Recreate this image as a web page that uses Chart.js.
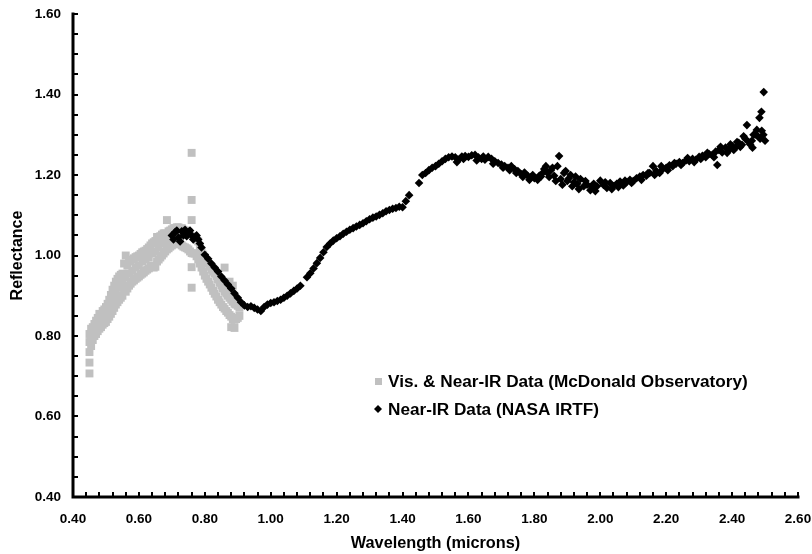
<!DOCTYPE html>
<html>
<head>
<meta charset="utf-8">
<script src="https://cdn.jsdelivr.net/npm/chart.js@4.4.1/dist/chart.umd.min.js"></script>
<style>
html,body{margin:0;padding:0;background:#ffffff;}
#wrap{width:812px;height:554px;position:relative;}
canvas{display:block;}
</style>
</head>
<body>
<div id="wrap"><canvas id="chart" width="812" height="554"></canvas></div>
<script>
// ---------------- data ----------------
const seriesLabels = ['Vis. & Near-IR Data (McDonald Observatory)', 'Near-IR Data (NASA IRTF)'];
const xTickValues = [0.40, 0.60, 0.80, 1.00, 1.20, 1.40, 1.60, 1.80, 2.00, 2.20, 2.40, 2.60];
const yTickValues = [0.40, 0.60, 0.80, 1.00, 1.20, 1.40, 1.60];
const xTitle = 'Wavelength (microns)';
const yTitle = 'Reflectance';

// McDonald Observatory visible / near-IR points (wavelength, reflectance)
const visWl = [
  0.450,0.450,0.450,0.450,0.450, 0.455,0.455,0.455, 0.460,0.460, 0.465,0.465, 0.470,0.470,
  0.475,0.475, 0.480,0.480, 0.485,0.485, 0.490,0.490,0.490, 0.495,0.495, 0.500,0.500,0.500,
  0.505,0.505, 0.510,0.510,0.510, 0.515,0.515, 0.520,0.520,0.520, 0.525,0.525, 0.530,0.530,0.530,
  0.535,0.535, 0.540,0.540,0.540, 0.545,0.545, 0.550,0.550,0.550, 0.555,0.555, 0.560,0.560,0.560,
  0.565,0.565, 0.570,0.570,0.570, 0.575,0.575, 0.580,0.580,0.580, 0.585,0.585, 0.590,0.590,0.590,
  0.595,0.595, 0.600,0.600,0.600, 0.605,0.605, 0.610,0.610,0.610, 0.615,0.615, 0.620,0.620,0.620,
  0.625,0.625, 0.630,0.630,0.630, 0.635,0.635, 0.640,0.640,0.640, 0.645,0.645, 0.650,0.650,0.650,
  0.655,0.655, 0.660,0.660,0.660, 0.665,0.665, 0.670,0.670,0.670, 0.675,0.675, 0.680,0.680,0.680,
  0.685,0.685, 0.690,0.690,0.690, 0.695,0.695, 0.700,0.700,0.700, 0.705,0.705, 0.710,0.710,
  0.715,0.715, 0.720,0.720, 0.725,0.725, 0.730,0.730, 0.735,0.735, 0.740,0.740, 0.745,0.745,
  0.750,0.750, 0.755,0.755, 0.760,0.760,0.760,0.760,0.760,0.760, 0.765,0.765, 0.770,0.770,
  0.775,0.775, 0.780,0.780, 0.785,0.785, 0.790,0.790, 0.795,0.795, 0.800,0.800, 0.805,0.805,
  0.810,0.810, 0.815,0.815, 0.820,0.820, 0.825,0.825, 0.830,0.830, 0.835,0.835, 0.840,0.840,
  0.845,0.845, 0.850,0.850, 0.855,0.855, 0.860,0.860,0.860, 0.865,0.865, 0.870,0.870,
  0.875,0.875,0.875, 0.880,0.880,0.880, 0.885,0.885,0.885, 0.890,0.890,0.890, 0.895,0.895,
  0.900,0.900, 0.905,0.905
];
const visRefl = [
  0.707,0.734,0.760,0.785,0.805, 0.775,0.800,0.818, 0.790,0.822, 0.800,0.830, 0.805,0.838,
  0.812,0.845, 0.818,0.855, 0.822,0.840, 0.828,0.845,0.862, 0.832,0.866, 0.835,0.855,0.872,
  0.842,0.880, 0.848,0.868,0.890, 0.855,0.902, 0.862,0.888,0.915, 0.870,0.925, 0.878,0.905,0.935,
  0.884,0.942, 0.890,0.920,0.948, 0.895,0.952, 0.900,0.930,0.955, 0.915,0.980, 0.910,0.945,1.000,
  0.918,0.975, 0.925,0.955,0.985, 0.930,0.988, 0.935,0.962,0.990, 0.938,0.993, 0.942,0.970,0.996,
  0.945,0.998, 0.948,0.975,1.000, 0.952,1.004, 0.955,0.985,1.008, 0.958,1.010, 0.962,0.990,1.012,
  0.965,1.016, 0.968,0.995,1.020, 0.972,1.025, 0.975,1.005,1.030, 0.970,1.033, 0.972,1.010,1.036,
  0.985,1.046, 0.990,1.020,1.045, 0.995,1.048, 1.000,1.030,1.052, 1.005,1.055, 1.010,1.035,1.055,
  1.088,1.015, 1.018,1.040,1.060, 1.022,1.062, 1.025,1.045,1.065, 1.028,1.068, 1.030,1.068,
  1.032,1.070, 1.028,1.070, 1.030,1.066, 1.025,1.068, 1.022,1.064, 1.020,1.062, 1.018,1.060,
  1.015,1.058, 1.010,1.052, 1.255,1.138,1.088,1.006,0.971,0.920, 1.005,1.048, 1.005,1.045,
  0.998,1.040, 0.990,1.035, 0.980,1.022, 0.970,1.010, 0.960,1.002, 0.950,0.995, 0.942,0.988,
  0.935,0.980, 0.928,0.972, 0.920,0.965, 0.912,0.960, 0.905,0.955, 0.898,0.948, 0.890,0.940,
  0.884,0.932, 0.878,0.925, 0.872,0.918, 0.868,0.910,0.970, 0.862,0.905, 0.858,0.900,
  0.852,0.895,0.935, 0.848,0.890,0.822, 0.842,0.885,0.925, 0.840,0.880,0.820, 0.842,0.878,
  0.845,0.875, 0.850,0.870
];

// NASA IRTF near-IR spectrum (wavelength, reflectance)
const irtfWl = [
  0.70,0.71,0.72,0.73,0.74,0.75,0.76,0.77,0.78,0.79,0.80,0.81,0.82,0.83,0.84,0.85,0.86,0.87,0.88,0.89,
  0.90,0.91,0.92,0.93,0.94,0.95,0.96,0.97,0.98,0.99,1.00,1.01,1.02,1.03,1.04,1.05,1.06,1.07,1.08,1.09,
  1.11,1.12,1.13,1.14,1.15,1.16,1.17,1.18,1.19,1.20,1.21,1.22,1.23,1.24,1.25,1.26,1.27,1.28,1.29,1.30,
  1.31,1.32,1.33,1.34,1.35,1.36,1.37,1.38,1.39,1.40,1.41,1.42,1.45,1.46,1.47,1.48,1.49,1.50,
  1.51,1.52,1.53,1.54,1.55,1.56,1.57,1.58,1.59,1.60,1.61,1.62,1.63,1.64,1.65,1.66,1.67,1.68,1.69,1.70,
  1.71,1.72,1.73,1.74,1.75,1.76,1.77,1.78,1.79,1.80,1.81,1.82,1.83,1.84,1.85,1.86,1.87,1.88,1.89,1.90,
  1.91,1.92,1.93,1.94,1.95,1.96,1.97,1.98,1.99,2.00,2.01,2.02,2.03,2.04,2.05,2.06,2.07,2.08,2.09,2.10,
  2.11,2.12,2.13,2.14,2.15,2.16,2.17,2.18,2.19,2.20,2.21,2.22,2.23,2.24,2.25,2.26,2.27,2.28,2.29,2.30,
  2.31,2.32,2.33,2.34,2.35,2.36,2.37,2.38,2.39,2.40,2.41,2.42,2.43,2.44,2.45,2.46,2.47,2.48,2.49,2.50
];
const irtfRefl = [
  1.050,1.058,1.045,1.060,1.064,1.055,1.050,1.045,1.040,1.020,1.002,0.992,0.980,0.970,0.960,0.948,0.938,0.928,0.918,0.906,
  0.895,0.884,0.876,0.872,0.874,0.870,0.866,0.862,0.872,0.878,0.882,0.884,0.887,0.890,0.895,0.900,0.906,0.912,0.918,0.925,
  0.946,0.956,0.968,0.981,0.994,1.008,1.021,1.030,1.037,1.043,1.048,1.054,1.059,1.064,1.068,1.072,1.076,1.080,1.085,1.090,
  1.094,1.097,1.101,1.105,1.110,1.113,1.116,1.118,1.121,1.120,1.135,1.150,1.180,1.200,1.205,1.212,1.218,1.222,
  1.228,1.234,1.240,1.244,1.246,1.244,1.238,1.246,1.247,1.245,1.249,1.250,1.244,1.240,1.238,1.245,1.240,1.234,1.230,1.226,
  1.222,1.218,1.222,1.214,1.210,1.202,1.206,1.198,1.195,1.192,1.188,1.196,1.215,1.205,1.212,1.198,1.222,1.190,1.205,1.185,
  1.200,1.182,1.178,1.190,1.172,1.176,1.162,1.178,1.172,1.186,1.175,1.168,1.180,1.172,1.178,1.184,1.174,1.182,1.188,1.185,
  1.192,1.196,1.200,1.198,1.205,1.222,1.210,1.205,1.215,1.218,1.224,1.222,1.228,1.232,1.230,1.236,1.234,1.240,1.238,1.245,
  1.248,1.244,1.252,1.250,1.258,1.262,1.256,1.268,1.262,1.272,1.268,1.280,1.275,1.290,1.282,1.285,1.300,1.295,1.310,1.285
];
// additional scattered IRTF points (noisy region of the spectrum)
const irtfScatterWl = [
  0.705,0.715,0.725,0.735,0.745,0.755,0.765,0.775,0.785,
  1.565,1.585,1.625,1.645,1.675,1.705,1.725,1.745,1.765,1.785,1.795,1.815,
  1.825,1.835,1.845,1.855,1.865,1.875,1.885,1.895,1.905,1.915,1.925,1.935,1.955,1.975,1.985,
  2.015,2.035,2.055,2.075,2.095,2.125,2.145,2.165,2.185,2.205,2.225,2.245,2.265,2.285,2.305,
  2.325,2.345,2.355,2.365,2.385,2.395,2.405,2.415,2.425,2.435,2.445,2.455,2.462,2.465,2.475,
  2.483,2.489,2.496,2.485,2.495
];
const irtfScatterRefl = [
  1.040,1.062,1.035,1.050,1.048,1.062,1.040,1.050,1.030,
  1.232,1.240,1.236,1.246,1.228,1.218,1.212,1.205,1.195,1.188,1.200,1.198,
  1.205,1.222,1.195,1.218,1.185,1.247,1.176,1.210,1.192,1.172,1.196,1.165,1.185,1.170,1.160,
  1.182,1.165,1.170,1.186,1.180,1.188,1.205,1.200,1.222,1.212,1.230,1.225,1.242,1.232,1.240,
  1.255,1.244,1.225,1.270,1.255,1.276,1.262,1.282,1.270,1.296,1.324,1.276,1.268,1.300,1.312,
  1.342,1.357,1.406,1.290,1.300
];

// ---------------- chart ----------------
const toPoints = (xs, ys) => xs.map((v, i) => ({x: v, y: ys[i]}));
const visPoints = toPoints(visWl, visRefl);
const irtfPoints = toPoints(irtfWl, irtfRefl).concat(toPoints(irtfScatterWl, irtfScatterRefl));

const FONT = '"Liberation Sans", Arial, Helvetica, sans-serif';
const GRAY = '#c0c0c0';

const decorPlugin = {
  id: 'decor',
  afterDraw(chart) {
    const {ctx, chartArea: a, scales} = chart;
    const xs = scales.x, ys = scales.y;
    ctx.save();
    ctx.strokeStyle = '#000';
    // axis lines
    ctx.lineWidth = 3;
    ctx.lineCap = 'square';
    ctx.beginPath();
    ctx.moveTo(a.left, a.top);
    ctx.lineTo(a.left, a.bottom);
    ctx.lineTo(a.right, a.bottom);
    ctx.stroke();
    // inward tick marks
    ctx.lineCap = 'butt';
    ctx.lineWidth = 2;
    ctx.beginPath();
    for (let i = 0; i <= 55; i++) {
      const px = Math.round(xs.getPixelForValue(0.40 + i * 0.04));
      ctx.moveTo(px, a.bottom);
      ctx.lineTo(px, a.bottom - 5);
    }
    for (let i = 0; i <= 24; i++) {
      const py = Math.round(ys.getPixelForValue(0.40 + i * 0.05));
      ctx.moveTo(a.left, py);
      ctx.lineTo(a.left + 5, py);
    }
    ctx.stroke();
    // legend inside the plot area
    const lx = a.left + 305, ly = a.top + 367, gap = 28;
    ctx.font = 'bold 17.2px ' + FONT;
    ctx.textBaseline = 'middle';
    ctx.textAlign = 'left';
    chart.data.datasets.forEach((ds, i) => {
      const y = ly + i * gap;
      ctx.fillStyle = ds.backgroundColor;
      if (ds.pointStyle === 'rect') {
        ctx.fillRect(lx - 3, y - 3, 7, 7);
      } else {
        ctx.beginPath();
        ctx.moveTo(lx - 4, y); ctx.lineTo(lx, y - 4); ctx.lineTo(lx + 4, y); ctx.lineTo(lx, y + 4);
        ctx.closePath(); ctx.fill();
      }
      ctx.fillStyle = '#000';
      ctx.fillText(ds.label, lx + 10, y + 1);
    });
    ctx.restore();
  }
};

new Chart(document.getElementById('chart'), {
  type: 'scatter',
  data: {
    datasets: [
      {
        label: seriesLabels[0], data: visPoints,
        pointStyle: 'rect', pointRadius: 5.6, backgroundColor: GRAY, borderColor: GRAY, borderWidth: 0,
        order: 2
      },
      {
        label: seriesLabels[1], data: irtfPoints,
        pointStyle: 'rectRot', pointRadius: 4.3, backgroundColor: '#000', borderColor: '#000', borderWidth: 0,
        order: 1
      }
    ]
  },
  options: {
    responsive: false,
    animation: false,
    events: [],
    layout: {padding: {top: 14, right: 14, left: 0, bottom: 0}},
    plugins: {legend: {display: false}, tooltip: {enabled: false}, title: {display: false}},
    scales: {
      x: {
        type: 'linear', min: 0.40, max: 2.60,
        afterBuildTicks: s => { s.ticks = xTickValues.map(v => ({value: v})); },
        afterFit: s => { s.height = 57; s.paddingLeft = 0; s.paddingRight = 0; },
        grid: {display: false, drawTicks: false},
        border: {display: false},
        ticks: {padding: 14, color: '#000', font: {family: FONT, size: 13.5, weight: 'bold'},
                maxRotation: 0, autoSkip: false, callback: v => Number(v).toFixed(2)},
        title: {display: true, text: xTitle, color: '#000', padding: {top: 0, bottom: 1},
                font: {family: FONT, size: 16.3, weight: 'bold'}}
      },
      y: {
        type: 'linear', min: 0.40, max: 1.60,
        afterBuildTicks: s => { s.ticks = yTickValues.map(v => ({value: v})); },
        afterFit: s => { s.width = 73; s.paddingTop = 0; s.paddingBottom = 0; },
        grid: {display: false, drawTicks: false},
        border: {display: false},
        ticks: {padding: 12, color: '#000', font: {family: FONT, size: 13.5, weight: 'bold'},
                autoSkip: false, callback: v => Number(v).toFixed(2)},
        title: {display: true, text: yTitle, color: '#000', padding: {top: 8, bottom: 0},
                font: {family: FONT, size: 16, weight: 'bold'}}
      }
    }
  },
  plugins: [decorPlugin]
});
</script>
</body>
</html>
